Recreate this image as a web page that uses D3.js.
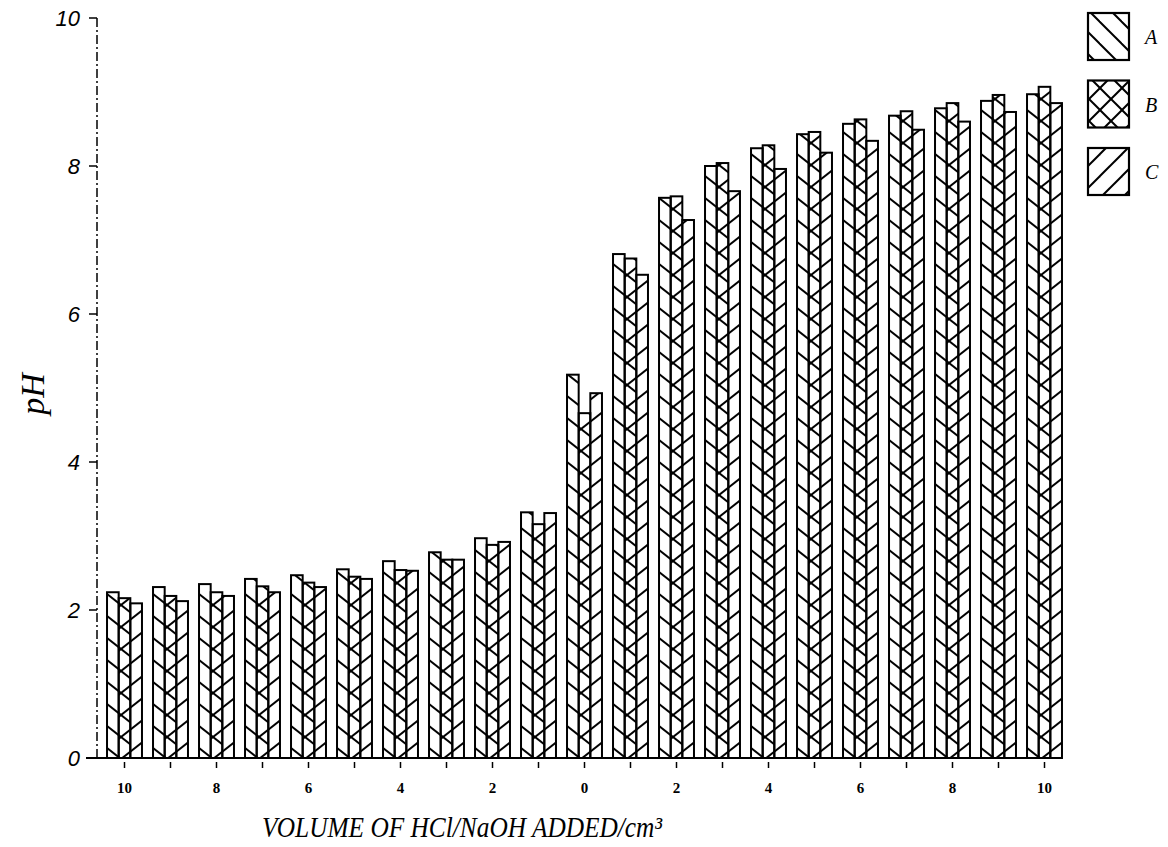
<!DOCTYPE html>
<html>
<head>
<meta charset="utf-8">
<script src="https://cdn.jsdelivr.net/npm/d3@7"></script>
<style>
  html, body { margin: 0; padding: 0; background: #fff; }
  svg { display: block; }
</style>
</head>
<body>
<script>
// ---- data ----
const volumes = ["10","9","8","7","6","5","4","3","2","1","0","1","2","3","4","5","6","7","8","9","10"];
const seriesNames = ["A", "B", "C"];
const seriesA = [2.24,2.31,2.35,2.42,2.47,2.55,2.66,2.78,2.97,3.32,5.18,6.81,7.57,8.00,8.24,8.43,8.57,8.68,8.78,8.88,8.97];
const seriesB = [2.16,2.19,2.24,2.32,2.37,2.45,2.54,2.68,2.88,3.16,4.66,6.75,7.59,8.04,8.28,8.46,8.63,8.74,8.85,8.96,9.07];
const seriesC = [2.09,2.12,2.19,2.24,2.31,2.42,2.53,2.68,2.92,3.31,4.93,6.53,7.27,7.66,7.96,8.18,8.34,8.49,8.60,8.73,8.85];
const yTicks = [0, 2, 4, 6, 8, 10];
const xTitle = "VOLUME OF HCl/NaOH ADDED/cm\u00B3";
const yTitle = "pH";

const W = 1168, H = 847;
const svg = d3.select("body").append("svg").attr("width", W).attr("height", H);

const x = d3.scaleBand().domain(d3.range(volumes.length)).range([101.5, 1067.5])
  .paddingInner(0.24).paddingOuter(0.12);
const xs = d3.scaleBand().domain(seriesNames).range([0, x.bandwidth()]);
const y = d3.scaleLinear().domain([0, 10]).range([758, 18]);

// ---- hatch patterns ----
const defs = svg.append("defs");
function hatch(id, dirs, pw, ph, sw) {
  const p = defs.append("pattern").attr("id", id).attr("patternUnits", "userSpaceOnUse")
    .attr("width", pw).attr("height", ph);
  dirs.forEach(dir => {
    [-pw, 0, pw].forEach(o => {
      const d = dir === "back"
        ? `M${o - pw},${-ph} L${o + 2 * pw},${2 * ph}`
        : `M${o - pw},${2 * ph} L${o + 2 * pw},${-ph}`;
      p.append("path").attr("d", d).attr("stroke", "#000").attr("stroke-width", sw).attr("fill", "none");
    });
  });
}
hatch("hA", ["back"], 28, 22, 2);
hatch("hB", ["back", "fwd"], 28, 22, 2);
hatch("hC", ["fwd"], 28, 22, 2);
hatch("lA", ["back"], 22, 22, 2);
hatch("lB", ["back", "fwd"], 22, 22, 2);
hatch("lC", ["fwd"], 22, 22, 2);

const data = [seriesA, seriesB, seriesC];
const pat = { A: "url(#hA)", B: "url(#hB)", C: "url(#hC)" };

// ---- bars ----
const groups = svg.append("g").selectAll("g").data(volumes.map((v, i) => i)).join("g")
  .attr("transform", i => `translate(${x(i)},0)`);
groups.selectAll("rect").data(i => seriesNames.map((s, k) => ({ s, v: data[k][i] }))).join("rect")
  .attr("x", d => xs(d.s)).attr("width", xs.bandwidth())
  .attr("y", d => y(d.v)).attr("height", d => y(0) - y(d.v))
  .attr("fill", d => pat[d.s]).attr("stroke", "#000").attr("stroke-width", 2);

// ---- axes ----
const axisG = svg.append("g");
axisG.append("line").attr("x1", 97).attr("x2", 97).attr("y1", y(10)).attr("y2", y(0))
  .attr("stroke", "#000").attr("stroke-width", 1.5).attr("stroke-dasharray", "9,3,2,3");
axisG.append("line").attr("x1", 86).attr("x2", 1062).attr("y1", y(0)).attr("y2", y(0))
  .attr("stroke", "#000").attr("stroke-width", 2);
yTicks.forEach(t => {
  axisG.append("line").attr("x1", 89).attr("x2", 97).attr("y1", y(t)).attr("y2", y(t))
    .attr("stroke", "#000").attr("stroke-width", 1.5);
  axisG.append("text").attr("x", 80).attr("y", y(t)).attr("dy", "0.36em")
    .attr("text-anchor", "end").attr("font-family", "Liberation Sans, Arial, sans-serif")
    .attr("font-style", "italic").attr("font-size", 22).text(t);
});
volumes.forEach((v, i) => {
  const cx = x(i) + x.bandwidth() / 2;
  axisG.append("line").attr("x1", cx).attr("x2", cx).attr("y1", y(0) + 4).attr("y2", y(0) + 10)
    .attr("stroke", "#000").attr("stroke-width", 1.5);
  if (i % 2 === 0) {
    axisG.append("text").attr("x", cx).attr("y", 793).attr("text-anchor", "middle")
      .attr("font-family", "Liberation Serif, Times New Roman, serif").attr("font-weight", "bold")
      .attr("font-size", 15).text(v);
  }
});

// ---- titles ----
svg.append("text").attr("x", 262).attr("y", 837)
  .attr("font-family", "Liberation Serif, Times New Roman, serif").attr("font-style", "italic")
  .attr("font-size", 29).attr("textLength", 400).attr("lengthAdjust", "spacingAndGlyphs").text(xTitle);
svg.append("text").attr("transform", "translate(44,394) rotate(-90)").attr("text-anchor", "middle")
  .attr("font-family", "Liberation Serif, Times New Roman, serif").attr("font-style", "italic")
  .attr("font-size", 34).text(yTitle);

// ---- legend ----
const leg = svg.append("g");
seriesNames.forEach((s, k) => {
  const ly = 13 + k * 67.5;
  leg.append("rect").attr("x", 1088).attr("y", ly).attr("width", 41).attr("height", 47)
    .attr("fill", `url(#l${s})`).attr("stroke", "#000").attr("stroke-width", 2.2);
  leg.append("text").attr("x", 1145).attr("y", ly + 24).attr("dy", "0.36em")
    .attr("font-family", "Liberation Serif, Times New Roman, serif").attr("font-style", "italic")
    .attr("font-size", 20).text(s);
});
</script>
</body>
</html>
